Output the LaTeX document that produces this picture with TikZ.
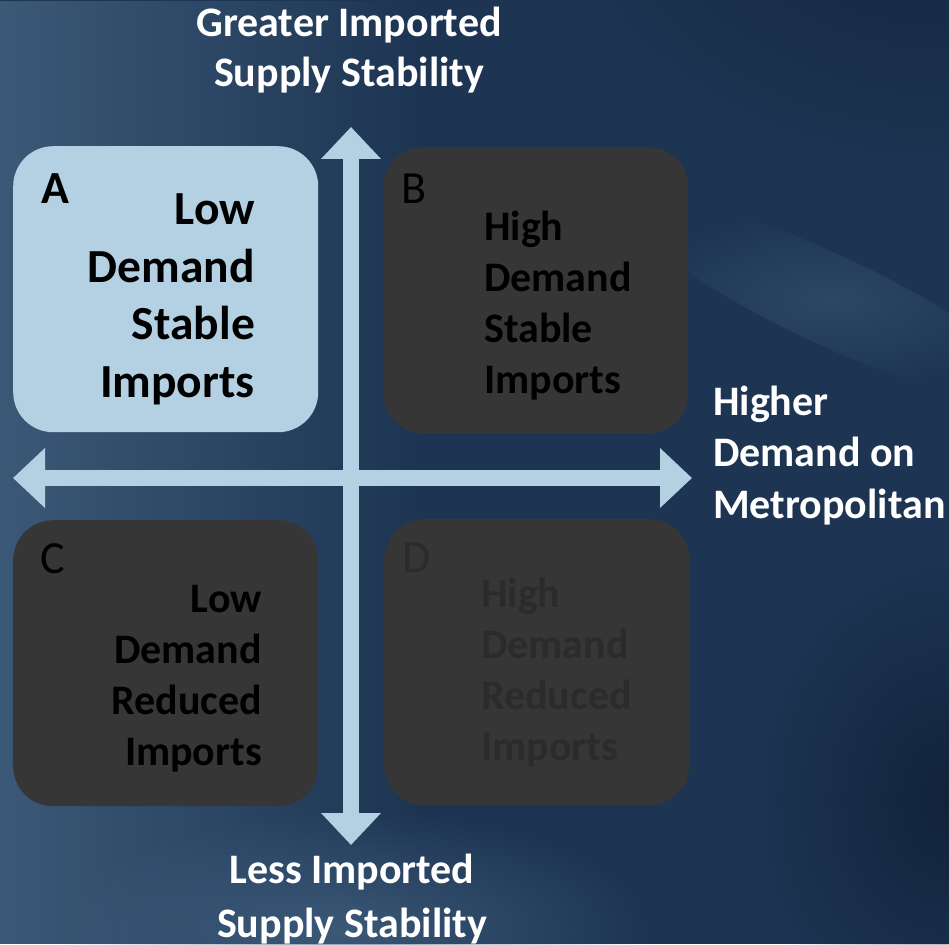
\documentclass[tikz,border=0pt]{standalone}
\usepackage{fontspec}
\setmainfont{Carlito}
\usetikzlibrary{arrows.meta,fadings}
\definecolor{boxlight}{HTML}{B3D1E3}
\definecolor{boxdark}{HTML}{363636}
\definecolor{textdim}{HTML}{2B2B2B}
\definecolor{bgmid}{HTML}{1D3553}
\definecolor{bglight}{HTML}{4A6888}
\definecolor{bgdark}{HTML}{0B1A2E}
\tikzfading[name=fadeleft, left color=transparent!30, right color=transparent!100]
\tikzfading[name=fadespot, inner color=transparent!35, outer color=transparent!100]
\tikzfading[name=fadesoft, inner color=transparent!65, outer color=transparent!100]
\begin{document}
\begin{tikzpicture}[x=1pt, y=-1pt,
  quad/.style={rounded corners=40pt, minimum width=305pt, minimum height=286pt, anchor=north west, inner sep=0pt},
  letter/.style={font=\fontsize{46}{50}\selectfont, anchor=base west, inner sep=0pt},
  quadtext/.style={font=\fontsize{42}{51}\selectfont\bfseries, inner sep=0pt},
  title/.style={font=\fontsize{42}{50}\selectfont\bfseries, text=white, align=center, inner sep=0pt, anchor=base},
  axis/.style={line width=16pt, boxlight, arrows={Triangle[width=58pt,length=32pt]-Triangle[width=58pt,length=32pt]}}]
  \useasboundingbox (0,0) rectangle (949,944);
  \fill[bgmid] (0,0) rectangle (949,944);
  \fill[bglight, path fading=fadeleft] (0,0) rectangle (420,944);
  \fill[bgdark, path fading=fadespot] (949,-150) ellipse (420 and 330);
  \fill[bglight, path fading=fadesoft, rotate around={-25:(830,300)}] (830,300) ellipse (220 and 45);
  \fill[bglight, path fading=fadespot] (350,930) ellipse (300 and 120);
  \fill[bgdark, path fading=fadespot] (949,800) ellipse (200 and 250);

  \node[quad, fill=boxlight] (qa) at (13,146) {};
  \node[quad, fill=boxdark] (qb) at (383,147) {};
  \node[quad, fill=boxdark] (qc) at (13,520) {};
  \node[quad, fill=boxdark] (qd) at (384,519) {};

  \coordinate (top) at (351,127);
  \coordinate (bot) at (351,845);
  \coordinate (lft) at (13,478);
  \coordinate (rgt) at (692,478);
  \draw[axis] (lft) -- (rgt);
  \draw[axis] (bot) -- (top);

  \node[letter, font=\fontsize{46}{50}\selectfont\bfseries] (la) at (41,203) {A};
  \node[letter] (lb) at (401,203) {B};
  \node[letter] (lc) at (40,573) {C};
  \node[letter, textdim] (ld) at (402,572) {D};

  \node[quadtext, font=\fontsize{47.5}{57.5}\selectfont\bfseries, align=right, anchor=base east] (ta) at (255,397) {Low\\Demand\\Stable\\Imports};
  \node[quadtext, align=left, anchor=base west] (tb) at (484,393) {High\\Demand\\Stable\\Imports};
  \node[quadtext, align=right, anchor=base east] (tc) at (262,765) {Low\\Demand\\Reduced\\Imports};
  \node[quadtext, textdim, align=left, anchor=base west] (td) at (481,760) {High\\Demand\\Reduced\\Imports};

  \node[title] (gt) at (349,87) {Greater Imported\\Supply Stability};
  \node[title, font=\fontsize{42}{54}\selectfont\bfseries] (lt) at (352,937) {Less Imported\\Supply Stability};
  \node[title, align=left, anchor=base west, font=\fontsize{42}{51.5}\selectfont\bfseries] (ht) at (713,518) {Higher\\Demand on\\Metropolitan};
\end{tikzpicture}
\end{document}
